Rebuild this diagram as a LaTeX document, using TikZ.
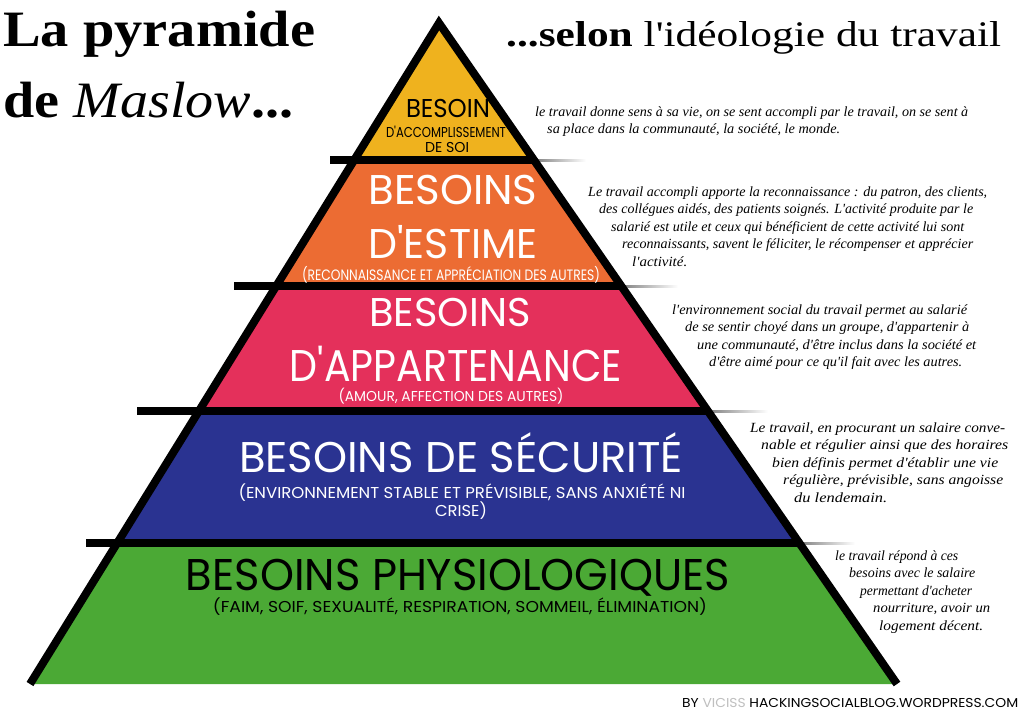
\documentclass[tikz,border=0pt]{standalone}
\usepackage{fontspec}
\usepackage{graphicx}
\setmainfont{Liberation Serif}
\newfontfamily\labelfont{Poppins}[Ligatures=TeXOff]
\newfontfamily\paraf{Liberation Serif}
\newfontfamily\plainserif{Liberation Serif}[Ligatures=TeXOff]
\definecolor{tyellow}{RGB}{239,178,30}
\definecolor{torange}{RGB}{236,108,51}
\definecolor{tpink}{RGB}{228,48,91}
\definecolor{tblue}{RGB}{42,51,145}
\definecolor{tgreen}{RGB}{75,169,53}
\newcommand\fitline[3]{\resizebox{#1pt}{#2pt}{\raisebox{0pt}[\fontcharht\font`B]{#3}}}
\newcommand\wline[2]{\resizebox{#1pt}{\height}{#2}}
\tikzset{
  lbl/.style={anchor=base, inner sep=0pt, text=black, font=\labelfont\fontsize{20}{24}\selectfont},
  wlbl/.style={lbl, text=white},
  para/.style={anchor=base west, inner sep=0pt, font=\paraf\itshape\fontsize{14}{16}\selectfont},
  bigtitle/.style={anchor=base west, inner sep=0pt, font=\fontsize{51}{60}\selectfont},
  subtitle/.style={anchor=base west, inner sep=0pt, font=\plainserif\fontsize{36}{42}\selectfont},
  bar/.style={line width=8pt, line cap=butt},
  edge/.style={line width=8pt, line join=miter},
  fadeline/.style={left color=black!50, right color=white, draw=none}
}
\begin{document}
\begin{tikzpicture}[x=1pt,y=-1pt]
\fill[white] (0,0) rectangle (1024,717);
\useasboundingbox (0,0) rectangle (1024,717);

% geometry
\coordinate (A) at (439,23);
\coordinate (BL) at (30,684);
\coordinate (BR) at (897,684);

\begin{scope}
\clip (0,0) rectangle (1024,686);
% tiers
\fill[tyellow] (A) -- (533.9,160) -- (354.2,160) -- cycle;
\fill[torange] (354.2,160) -- (533.9,160) -- (621.2,286) -- (276.3,286) -- cycle;
\fill[tpink] (276.3,286) -- (621.2,286) -- (707.8,411) -- (198.9,411) -- cycle;
\fill[tblue] (198.9,411) -- (707.8,411) -- (799.3,543) -- (117.2,543) -- cycle;
\fill[tgreen] (117.2,543) -- (799.3,543) -- (BR) -- (BL) -- cycle;
% fading grey lines
\shade[fadeline] (533.9,159) rectangle (586,161);
\shade[fadeline] (621.2,285) rectangle (678,287);
\shade[fadeline] (707.8,410) rectangle (768,412);
\shade[fadeline] (799.3,542) rectangle (855,544);
% black bars
\draw[bar] (330,160) -- (533.9,160);
\draw[bar] (234,286) -- (621.2,286);
\draw[bar] (137,411) -- (707.8,411);
\draw[bar] (86,543) -- (799.3,543);
% edges
\draw[edge] (BL) -- (A) -- (BR);
\end{scope}

% tier labels
\node[lbl] (y1) at (448,117) {\fitline{84}{18}{BESOIN}};
\node[lbl] (y2) at (446,137) {\fitline{120}{10}{D'ACCOMPLISSEMENT}};
\node[lbl] (y3) at (447,152) {\fitline{44}{10}{DE SOI}};

\node[wlbl] (o1) at (453,204) {\fitline{169}{29}{BESOINS}};
\node[wlbl] (o2) at (453,258) {\fitline{169}{29}{D'ESTIME}};
\node[wlbl] (o3) at (451,280) {\fitline{298}{10.5}{(RECONNAISSANCE ET APPRÉCIATION DES AUTRES)}};

\node[wlbl] (p1) at (450,326) {\fitline{161}{28}{BESOINS}};
\node[wlbl] (p2) at (456,381) {\fitline{332}{31}{D'APPARTENANCE}};
\node[wlbl] (p3) at (451,401) {\fitline{225}{10}{(AMOUR, AFFECTION DES AUTRES)}};

\node[wlbl] (b1) at (461,472) {\fitline{444}{30}{BESOINS DE SÉCURITÉ}};
\node[wlbl] (b2) at (462,498) {\fitline{447}{11}{(ENVIRONNEMENT STABLE ET PRÉVISIBLE, SANS ANXIÉTÉ NI}};
\node[wlbl] (b3) at (461,516) {\fitline{52}{11}{CRISE)}};

\node[lbl] (g1) at (458,590) {\fitline{544}{31}{BESOINS PHYSIOLOGIQUES}};
\node[lbl] (g2) at (460,612) {\fitline{494}{11}{(FAIM, SOIF, SEXUALITÉ, RESPIRATION, SOMMEIL, ÉLIMINATION)}};

% titles
\node[bigtitle] (t1) at (3,47) {\wline{312}{\bfseries La pyramide}};
\node[bigtitle] (t2) at (3,117) {\wline{290}{{\bfseries de} {\itshape Maslow}{\bfseries ...}}};
\node[subtitle] (t3) at (506,47) {\wline{495}{{\bfseries ...selon} l'idéologie du travail}};

% paragraph 1
\node[para] (a1) at (535,116) {\wline{433}{le travail donne sens à sa vie, on se sent accompli par le travail, on se sent à}};
\node[para] (a2) at (547,133.5) {\wline{293}{sa place dans la communauté, la société, le monde.}};

% paragraph 2
\node[para] (c1) at (588,196) {\wline{399}{Le travail accompli apporte la reconnaissance : du patron, des clients,}};
\node[para] (c2) at (599,213.5) {\wline{374}{des collégues aidés, des patients soignés. L'activité produite par le}};
\node[para] (c3) at (611,231) {\wline{353}{salarié est utile et ceux qui bénéficient de cette activité lui sont}};
\node[para] (c4) at (622,248.5) {\wline{351}{reconnaissants, savent le féliciter, le récompenser et apprécier}};
\node[para] (c5) at (632,266) {\wline{55}{l'activité.}};

% paragraph 3
\node[para] (d1) at (672,314) {\wline{295}{l'environnement social du travail permet au salarié}};
\node[para] (d2) at (685,331.5) {\wline{284}{de se sentir choyé dans un groupe, d'appartenir à}};
\node[para] (d3) at (697,349) {\wline{279}{une communauté, d'être inclus dans la société et}};
\node[para] (d4) at (709,366.5) {\wline{253}{d'être aimé pour ce qu'il fait avec les autres.}};

% paragraph 4
\node[para] (e1) at (750,432) {\wline{255}{Le travail, en procurant un salaire conve-}};
\node[para] (e2) at (761,449.5) {\wline{247}{nable et régulier ainsi que des horaires}};
\node[para] (e3) at (772,467) {\wline{226}{bien définis permet d'établir une vie}};
\node[para] (e4) at (783,484.5) {\wline{220}{régulière, prévisible, sans angoisse}};
\node[para] (e5) at (794,502) {\wline{93}{du lendemain.}};

% paragraph 5
\node[para] (f1) at (835,560) {\wline{123}{le travail répond à ces}};
\node[para] (f2) at (849,577.5) {\wline{126}{besoins avec le salaire}};
\node[para] (f3) at (860,595) {\wline{112}{permettant d'acheter}};
\node[para] (f4) at (873,612.5) {\wline{117}{nourriture, avoir un}};
\node[para] (f5) at (879,630) {\wline{104}{logement décent.}};

% credit
\node[lbl, anchor=base west] (cr) at (682,707) {\fitline{336}{9}{BY \textcolor{black!25}{VICISS} HACKINGSOCIALBLOG.WORDPRESS.COM}};
\end{tikzpicture}
\end{document}
